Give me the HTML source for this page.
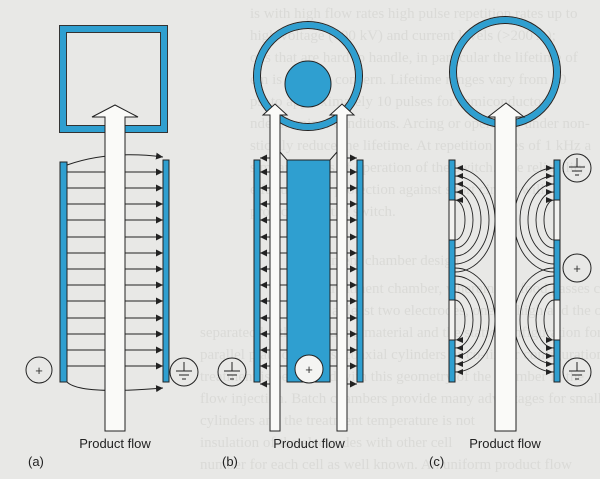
<!DOCTYPE html>
<html><head><meta charset="utf-8"><style>
html,body{margin:0;padding:0;background:#e8e8e6;}
svg{display:block;}
</style></head><body>
<svg width="600" height="479" viewBox="0 0 600 479" xmlns="http://www.w3.org/2000/svg" font-family="Liberation Sans, sans-serif">
<defs>
<marker id="ar" markerWidth="8" markerHeight="8" refX="7" refY="4" orient="auto" markerUnits="userSpaceOnUse"><path d="M0,0.5 L7,4 L0,7.5 Z" fill="#222"/></marker>
</defs>
<rect width="600" height="479" fill="#e8e8e6"/>
<!-- faint background text -->
<g fill="#dadad7" font-family="Liberation Serif, serif" font-size="15">
<text x="250" y="18">is with high flow rates high pulse repetition rates up to</text>
<text x="250" y="40">high voltage (100 kV) and current levels (&gt;200 A);</text>
<text x="250" y="62">ons that are hard to handle, in particular the lifetime of</text>
<text x="250" y="84">em is a major concern. Lifetime ranges vary from 10</text>
<text x="250" y="106">ps, to approximately 10 pulses for semiconductor</text>
<text x="250" y="128">nder nominal conditions. Arcing or operation under non-</text>
<text x="250" y="150">stically reduce the lifetime. At repetition rates of 1 kHz a</text>
<text x="250" y="172">s means hours of operation of the switch. The reliability</text>
<text x="250" y="194">e failures and protection against short circuit will</text>
<text x="250" y="216">protection of the switch.</text>
<text x="300" y="265">Treatment chamber design</text>
<text x="300" y="293">The treatment chamber, wherein the food passes con-</text>
<text x="300" y="315">tains at least two electrodes, one on high and the other on ground potential,</text>
<text x="200" y="337">separated by the insulating material and the static configuration forms</text>
<text x="200" y="359">parallel plate cylinders, coaxial cylinders or co-linear configurations</text>
<text x="200" y="381">treatment is performed with this geometry of the chamber in the</text>
<text x="200" y="403">flow injection. Batch chambers provide many advantages for small</text>
<text x="200" y="425">cylinders and the treatment temperature is not</text>
<text x="200" y="447">insulation of the electrodes with other cell</text>
<text x="200" y="469">number for each cell as well known. An uniform product flow</text>
</g>

<g stroke="#222" stroke-width="1">
<!-- ============ (a) ============ -->
<rect x="63" y="29" width="101" height="100" fill="none" stroke="#2f9fd0" stroke-width="6"/>
<rect x="59.5" y="25.5" width="108" height="107" fill="none" stroke="#333" stroke-width="1"/>
<rect x="66.5" y="32.5" width="94" height="93" fill="none" stroke="#333" stroke-width="1"/>
<g fill="none" marker-end="url(#ar)">
<path d="M67,165 Q110,150 163,157"/>
<line x1="67" y1="172" x2="163" y2="172"/>
<line x1="67" y1="188" x2="163" y2="188"/>
<line x1="67" y1="204" x2="163" y2="204"/>
<line x1="67" y1="220" x2="163" y2="220"/>
<line x1="67" y1="237" x2="163" y2="237"/>
<line x1="67" y1="253" x2="163" y2="253"/>
<line x1="67" y1="269" x2="163" y2="269"/>
<line x1="67" y1="285" x2="163" y2="285"/>
<line x1="67" y1="301" x2="163" y2="301"/>
<line x1="67" y1="318" x2="163" y2="318"/>
<line x1="67" y1="334" x2="163" y2="334"/>
<line x1="67" y1="350" x2="163" y2="350"/>
<line x1="67" y1="366" x2="163" y2="366"/>
<path d="M67,382 Q80,395 163,388"/>
</g>
<rect x="60" y="162" width="7" height="220" fill="#2f9fd0"/>
<rect x="163" y="160" width="6" height="222" fill="#2f9fd0"/>
<path d="M105,431 L105,117 L92,117 L115,105 L138,117 L125,117 L125,431 Z" fill="#fafaf8"/>
<circle cx="39" cy="370" r="13" fill="none"/>
<text x="39" y="375" font-size="13" text-anchor="middle" stroke="none" fill="#333">+</text>
<circle cx="184" cy="372" r="14" fill="none"/>
<path d="M184,362 V371 M176,371 H192 M179,375 H189 M182,379 H186" fill="none"/>

<!-- ============ (b) ============ -->
<circle cx="308" cy="76" r="51" fill="none" stroke="#2f9fd0" stroke-width="6"/>
<circle cx="308" cy="76" r="54.5" fill="none"/>
<circle cx="308" cy="76" r="47.5" fill="none"/>
<circle cx="308" cy="84" r="23" fill="#2f9fd0"/>
<path d="M287,382 L287,160 L280,152 M330,160 L337,152" fill="none"/>
<rect x="287" y="160" width="43" height="222" fill="#2f9fd0"/>
<g fill="none">
<line x1="280" y1="172" x2="287" y2="172"/><line x1="330" y1="172" x2="337" y2="172"/>
<line x1="280" y1="188" x2="287" y2="188"/><line x1="330" y1="188" x2="337" y2="188"/>
<line x1="280" y1="204" x2="287" y2="204"/><line x1="330" y1="204" x2="337" y2="204"/>
<line x1="280" y1="220" x2="287" y2="220"/><line x1="330" y1="220" x2="337" y2="220"/>
<line x1="280" y1="237" x2="287" y2="237"/><line x1="330" y1="237" x2="337" y2="237"/>
<line x1="280" y1="253" x2="287" y2="253"/><line x1="330" y1="253" x2="337" y2="253"/>
<line x1="280" y1="269" x2="287" y2="269"/><line x1="330" y1="269" x2="337" y2="269"/>
<line x1="280" y1="285" x2="287" y2="285"/><line x1="330" y1="285" x2="337" y2="285"/>
<line x1="280" y1="301" x2="287" y2="301"/><line x1="330" y1="301" x2="337" y2="301"/>
<line x1="280" y1="318" x2="287" y2="318"/><line x1="330" y1="318" x2="337" y2="318"/>
<line x1="280" y1="334" x2="287" y2="334"/><line x1="330" y1="334" x2="337" y2="334"/>
<line x1="280" y1="350" x2="287" y2="350"/><line x1="330" y1="350" x2="337" y2="350"/>
<line x1="280" y1="366" x2="287" y2="366"/><line x1="330" y1="366" x2="337" y2="366"/>
</g>
<g fill="none" marker-end="url(#ar)">
<line x1="270" y1="158" x2="260" y2="158"/><line x1="347" y1="158" x2="357" y2="158"/>
<line x1="272" y1="172" x2="260" y2="172"/><line x1="345" y1="172" x2="357" y2="172"/>
<line x1="272" y1="188" x2="260" y2="188"/><line x1="345" y1="188" x2="357" y2="188"/>
<line x1="272" y1="204" x2="260" y2="204"/><line x1="345" y1="204" x2="357" y2="204"/>
<line x1="272" y1="220" x2="260" y2="220"/><line x1="345" y1="220" x2="357" y2="220"/>
<line x1="272" y1="237" x2="260" y2="237"/><line x1="345" y1="237" x2="357" y2="237"/>
<line x1="272" y1="253" x2="260" y2="253"/><line x1="345" y1="253" x2="357" y2="253"/>
<line x1="272" y1="269" x2="260" y2="269"/><line x1="345" y1="269" x2="357" y2="269"/>
<line x1="272" y1="285" x2="260" y2="285"/><line x1="345" y1="285" x2="357" y2="285"/>
<line x1="272" y1="301" x2="260" y2="301"/><line x1="345" y1="301" x2="357" y2="301"/>
<line x1="272" y1="318" x2="260" y2="318"/><line x1="345" y1="318" x2="357" y2="318"/>
<line x1="272" y1="334" x2="260" y2="334"/><line x1="345" y1="334" x2="357" y2="334"/>
<line x1="272" y1="350" x2="260" y2="350"/><line x1="345" y1="350" x2="357" y2="350"/>
<line x1="272" y1="366" x2="260" y2="366"/><line x1="345" y1="366" x2="357" y2="366"/>
<line x1="272" y1="384" x2="260" y2="384"/><line x1="345" y1="384" x2="357" y2="384"/>
</g>
<rect x="254" y="160" width="6" height="222" fill="#2f9fd0"/>
<rect x="357" y="160" width="6" height="222" fill="#2f9fd0"/>
<path d="M270,431 L270,115 L263,115 L275,104 L287,115 L280,115 L280,431 Z" fill="#fafaf8"/>
<path d="M337,431 L337,115 L330,115 L342,104 L354,115 L347,115 L347,431 Z" fill="#fafaf8"/>
<circle cx="309" cy="369" r="14" fill="#f4f4f2"/>
<text x="309" y="374" font-size="13" text-anchor="middle" stroke="none" fill="#333">+</text>
<circle cx="232" cy="372" r="14" fill="none"/>
<path d="M232,362 V371 M224,371 H240 M227,375 H237 M230,379 H234" fill="none"/>

<!-- ============ (c) ============ -->
<circle cx="505" cy="72" r="52" fill="none" stroke="#2f9fd0" stroke-width="6"/>
<circle cx="505" cy="72" r="55.5" fill="none"/>
<circle cx="505" cy="72" r="48.5" fill="none"/>
<g fill="none" stroke-width="0.9">
<path d="M455,200 A10,20 0 0 1 455,240"/>
<path d="M455,192 A18,28 0 0 1 455,248"/>
<path d="M455,184 A26,36 0 0 1 455,256"/>
<path d="M455,176 A34,44 0 0 1 455,264"/>
<path d="M455,168 A40,52 0 0 1 455,272"/>
<path d="M455,300 A10,20 0 0 1 455,340"/>
<path d="M455,292 A18,28 0 0 1 455,348"/>
<path d="M455,284 A26,36 0 0 1 455,356"/>
<path d="M455,276 A34,44 0 0 1 455,364"/>
<path d="M455,268 A40,52 0 0 1 455,372"/>
<path d="M554,200 A10,20 0 0 0 554,240"/>
<path d="M554,192 A18,28 0 0 0 554,248"/>
<path d="M554,184 A26,36 0 0 0 554,256"/>
<path d="M554,176 A34,44 0 0 0 554,264"/>
<path d="M554,168 A40,52 0 0 0 554,272"/>
<path d="M554,300 A10,20 0 0 0 554,340"/>
<path d="M554,292 A18,28 0 0 0 554,348"/>
<path d="M554,284 A26,36 0 0 0 554,356"/>
<path d="M554,276 A34,44 0 0 0 554,364"/>
<path d="M554,268 A40,52 0 0 0 554,372"/>
</g>
<g fill="#222" stroke="none">
<path d="M456,168 l7,-3 l0,6z"/><path d="M456,176 l7,-3 l0,6z"/><path d="M456,184 l7,-3 l0,6z"/><path d="M456,192 l7,-3 l0,6z"/><path d="M456,200 l7,-3 l0,6z"/>
<path d="M553,168 l-7,-3 l0,6z"/><path d="M553,176 l-7,-3 l0,6z"/><path d="M553,184 l-7,-3 l0,6z"/><path d="M553,192 l-7,-3 l0,6z"/><path d="M553,200 l-7,-3 l0,6z"/>
<path d="M456,340 l7,-3 l0,6z"/><path d="M456,348 l7,-3 l0,6z"/><path d="M456,356 l7,-3 l0,6z"/><path d="M456,364 l7,-3 l0,6z"/><path d="M456,372 l7,-3 l0,6z"/>
<path d="M553,340 l-7,-3 l0,6z"/><path d="M553,348 l-7,-3 l0,6z"/><path d="M553,356 l-7,-3 l0,6z"/><path d="M553,364 l-7,-3 l0,6z"/><path d="M553,372 l-7,-3 l0,6z"/>
</g>
<rect x="449" y="160" width="6" height="40" fill="#2f9fd0"/>
<rect x="449" y="200" width="6" height="40" fill="#f2f2f0"/>
<rect x="449" y="240" width="6" height="60" fill="#2f9fd0"/>
<rect x="449" y="300" width="6" height="40" fill="#f2f2f0"/>
<rect x="449" y="340" width="6" height="42" fill="#2f9fd0"/>
<rect x="554" y="160" width="6" height="40" fill="#2f9fd0"/>
<rect x="554" y="200" width="6" height="40" fill="#f2f2f0"/>
<rect x="554" y="240" width="6" height="60" fill="#2f9fd0"/>
<rect x="554" y="300" width="6" height="40" fill="#f2f2f0"/>
<rect x="554" y="340" width="6" height="42" fill="#2f9fd0"/>
<path d="M495,431 L495,117 L488,117 L506,103 L524,117 L516,117 L516,431 Z" fill="#fafaf8"/>
<circle cx="577" cy="168" r="14" fill="none"/>
<path d="M577,158 V167 M569,167 H585 M572,171 H582 M575,175 H579" fill="none"/>
<circle cx="577" cy="268" r="14" fill="none"/>
<text x="577" y="273" font-size="13" text-anchor="middle" stroke="none" fill="#333">+</text>
<circle cx="577" cy="372" r="14" fill="none"/>
<path d="M577,362 V371 M569,371 H585 M572,375 H582 M575,379 H579" fill="none"/>
</g>

<g fill="#222" font-size="13">
<text x="115" y="448" text-anchor="middle">Product flow</text>
<text x="309" y="448" text-anchor="middle">Product flow</text>
<text x="505" y="448" text-anchor="middle">Product flow</text>
<text x="28" y="466">(a)</text>
<text x="222" y="466">(b)</text>
<text x="429" y="466">(c)</text>
</g>
</svg>
</body></html>
